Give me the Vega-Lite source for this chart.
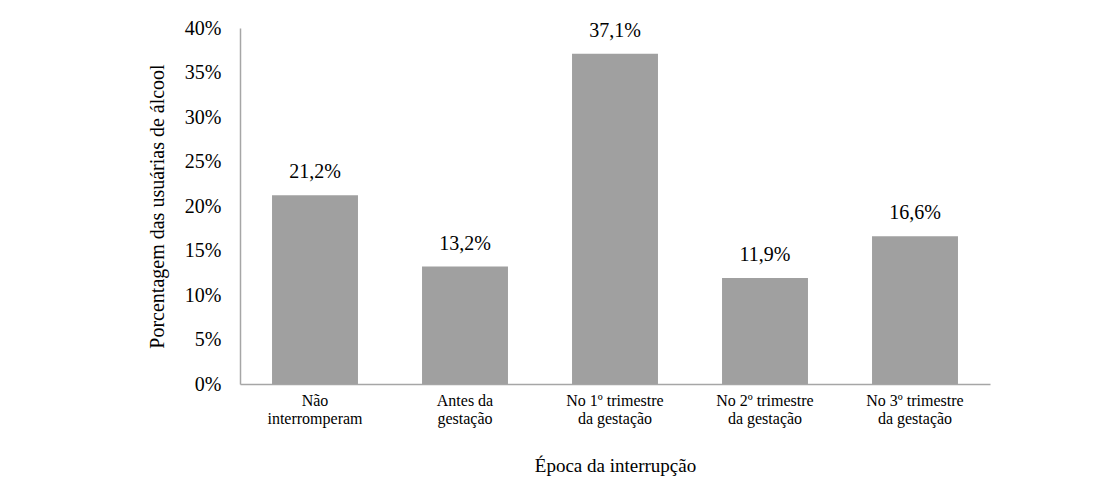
{
  "$schema": "https://vega.github.io/schema/vega-lite/v6.json",
  "width": 750,
  "height": 356,
  "autosize": {"type": "none"},
  "padding": {"left": 240, "top": 28, "right": 128, "bottom": 100},
  "background": "white",
  "config": {
    "view": {"stroke": null},
    "font": "Liberation Serif",
    "locale": {"number": {"decimal": ",", "thousands": ".", "grouping": [3], "currency": ["R$", ""]}}
  },
  "data": {
    "values": [
      {"epoca": "Não|interromperam", "pct": 0.212},
      {"epoca": "Antes da|gestação", "pct": 0.132},
      {"epoca": "No 1º trimestre|da gestação", "pct": 0.371},
      {"epoca": "No 2º trimestre|da gestação", "pct": 0.119},
      {"epoca": "No 3º trimestre|da gestação", "pct": 0.166}
    ]
  },
  "encoding": {
    "x": {
      "field": "epoca",
      "type": "nominal",
      "sort": null,
      "scale": {"paddingInner": 0.427, "paddingOuter": 0.2135},
      "axis": {
        "title": "Época da interrupção",
        "titleFont": "Liberation Serif",
        "titleFontSize": 19,
        "titleFontWeight": "normal",
        "titleColor": "#000000",
        "titleBaseline": "alphabetic",
        "titleY": 87,
        "labelExpr": "split(datum.label, '|')",
        "labelAngle": 0,
        "labelFont": "Liberation Serif",
        "labelFontWeight": "normal",
        "labelFontSize": 16,
        "labelLineHeight": 18,
        "labelColor": "#000000",
        "labelPadding": 8,
        "ticks": false,
        "domainColor": "#a6a6a6",
        "domainWidth": 1.5,
        "grid": false
      }
    },
    "y": {
      "field": "pct",
      "type": "quantitative",
      "scale": {"domain": [0, 0.4], "nice": false},
      "axis": {
        "title": "Porcentagem das usuárias de álcool",
        "titleFont": "Liberation Serif",
        "titleFontSize": 20,
        "titleFontWeight": "normal",
        "titleColor": "#000000",
        "titlePadding": 17,
        "format": ".0%",
        "values": [0, 0.05, 0.1, 0.15, 0.2, 0.25, 0.3, 0.35, 0.4],
        "labelFont": "Liberation Serif",
        "labelFontWeight": "normal",
        "labelFontSize": 20,
        "labelColor": "#000000",
        "labelPadding": 19,
        "ticks": false,
        "domainColor": "#a6a6a6",
        "domainWidth": 1.5,
        "grid": false
      }
    }
  },
  "layer": [
    {"mark": {"type": "bar", "color": "#a0a0a0"}},
    {
      "mark": {"type": "text", "baseline": "alphabetic", "dy": -17, "font": "Liberation Serif", "fontWeight": "normal", "fontSize": 20, "color": "#000000"},
      "encoding": {"text": {"field": "pct", "type": "quantitative", "format": ".1%"}}
    }
  ]
}
